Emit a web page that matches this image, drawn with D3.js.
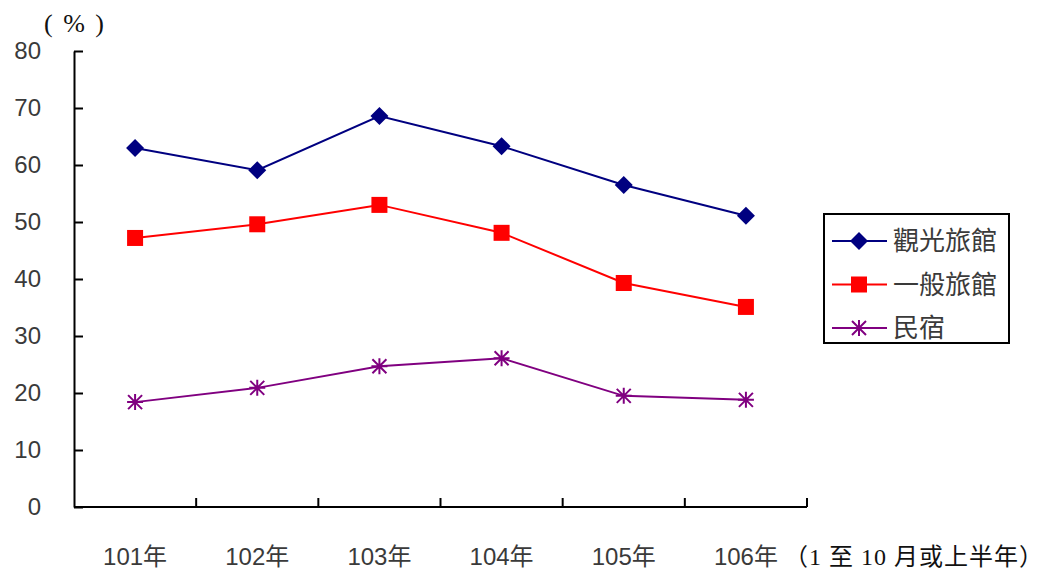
<!DOCTYPE html>
<html>
<head>
<meta charset="utf-8">
<script src="https://cdn.jsdelivr.net/npm/d3@7"></script>
<style>
  body { margin: 0; background: #fff; }
  svg text { font-family: "Liberation Sans", "Noto Sans CJK TC", sans-serif; fill: #3a3a3a; }
  svg text.serif { font-family: "Liberation Serif", "Noto Sans CJK TC", serif; fill: #111; }
</style>
</head>
<body>
<div class="js-chart"></div>
<script>
const years = ['101年', '102年', '103年', '104年', '105年', '106年'];
const touristHotel = [63.0, 59.1, 68.6, 63.3, 56.5, 51.1];
const generalHotel = [47.2, 49.6, 53.0, 48.1, 39.3, 35.1];
const homestay = [18.4, 20.9, 24.7, 26.1, 19.5, 18.8];
const seriesNames = ['觀光旅館', '一般旅館', '民宿'];
const yTicks = [0, 10, 20, 30, 40, 50, 60, 70, 80];

const series = [
    { name: seriesNames[0], values: touristHotel, color: '#000080', marker: 'diamond' },
    { name: seriesNames[1], values: generalHotel, color: '#ff0000', marker: 'square' },
    { name: seriesNames[2], values: homestay, color: '#800080', marker: 'star' }
];

const width = 1048;
const height = 574;

const svg = d3.select('.js-chart').append('svg')
    .attr('width', width)
    .attr('height', height);

const x = d3.scaleBand().domain(years).range([74, 807]);
const y = d3.scaleLinear().domain([0, 80]).range([507, 51]);

// y axis: ticks point inward
const yAxis = svg.append('g')
    .attr('transform', `translate(${x.range()[0]},0)`)
    .call(d3.axisRight(y).tickValues(yTicks).tickSize(9).tickSizeOuter(0));
yAxis.select('.domain').attr('stroke', '#000').attr('stroke-width', 2);
yAxis.selectAll('.tick line').attr('stroke', '#000').attr('stroke-width', 2);
yAxis.selectAll('.tick text')
    .attr('x', -33)
    .attr('text-anchor', 'end')
    .style('font-size', '24px');

// x axis: ticks at the category boundaries, pointing up
const xAxis = svg.append('g')
    .attr('transform', `translate(0,${y(0)})`);
xAxis.append('line')
    .attr('x1', x.range()[0]).attr('x2', x.range()[1])
    .attr('stroke', '#000').attr('stroke-width', 2);
xAxis.selectAll('.xtick')
    .data(years.map((d) => x(d) + x.bandwidth()))
    .enter()
    .append('line')
    .attr('x1', (d) => d).attr('x2', (d) => d)
    .attr('y1', 0).attr('y2', -9)
    .attr('stroke', '#000').attr('stroke-width', 2);
xAxis.selectAll('.xlabel')
    .data(years)
    .enter()
    .append('text')
    .attr('x', (d) => x(d) + x.bandwidth() / 2)
    .attr('y', 58)
    .attr('text-anchor', 'middle')
    .style('font-size', '24px')
    .text((d) => d);

// unit and period notes
svg.append('text').attr('class', 'serif')
    .attr('x', 75).attr('y', 32)
    .attr('text-anchor', 'middle')
    .style('font-size', '26px')
    .style('letter-spacing', '2px')
    .text('( % )');
svg.append('text').attr('class', 'serif')
    .attr('x', 784).attr('y', 565)
    .style('font-size', '24px')
    .style('letter-spacing', '1px')
    .text('（1 至 10 月或上半年）');

const cx = (i) => x(years[i]) + x.bandwidth() / 2;

function drawMarker(g, type, color) {
    if (type === 'diamond') {
        g.append('path').attr('d', 'M0,-9L9,0L0,9L-9,0Z').attr('fill', color);
    } else if (type === 'square') {
        g.append('rect').attr('x', -8).attr('y', -8).attr('width', 16).attr('height', 16)
            .attr('fill', color);
    } else {
        g.append('path')
            .attr('d', 'M-7,-7L7,7M-7,7L7,-7M0,-8L0,8M-8,0L8,0')
            .attr('stroke', color).attr('stroke-width', 2);
    }
}

const line = d3.line().x((d, i) => cx(i)).y((d) => y(d));

series.forEach((s) => {
    svg.append('path')
        .datum(s.values)
        .attr('d', line)
        .attr('fill', 'none')
        .attr('stroke', s.color)
        .attr('stroke-width', 2);
    s.values.forEach((v, i) => {
        const g = svg.append('g').attr('transform', `translate(${cx(i)},${y(v)})`);
        drawMarker(g, s.marker, s.color);
    });
});

// legend
const legend = svg.append('g').attr('transform', 'translate(824,214)');
legend.append('rect')
    .attr('width', 185).attr('height', 129)
    .attr('fill', '#fff').attr('stroke', '#000').attr('stroke-width', 2);
series.forEach((s, i) => {
    const ly = 27 + i * 43.5;
    legend.append('line')
        .attr('x1', 8).attr('x2', 63).attr('y1', ly).attr('y2', ly)
        .attr('stroke', s.color).attr('stroke-width', 2);
    drawMarker(legend.append('g').attr('transform', `translate(35,${ly})`), s.marker, s.color);
    legend.append('text')
        .attr('x', 69).attr('y', ly + 9)
        .style('font-size', '26px')
        .text(s.name);
});
</script>
</body>
</html>
